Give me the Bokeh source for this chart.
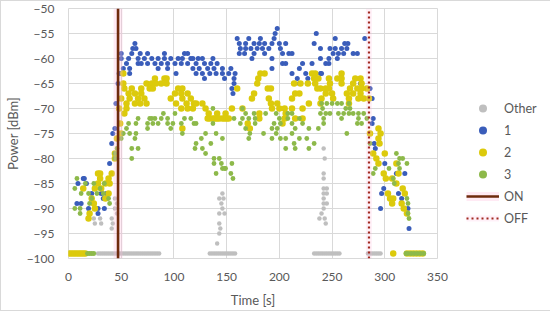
from bokeh.plotting import figure
from bokeh.models import Legend, LegendItem, FixedTicker
from bokeh.embed import file_html
from bokeh.resources import INLINE

x_ticks = [0, 50, 100, 150, 200, 250, 300, 350]
y_ticks = [-100, -95, -90, -85, -80, -75, -70, -65, -60, -55, -50]
on_time = 47
off_time = 285

# rows of (power dBm, [times s])
other_rows = [
    (-99, [28, 30, 32, 34, 36, 38, 40, 42, 44, 46, 48, 50, 52, 54, 56, 58, 60, 62, 64, 66, 68, 70, 72, 74, 76, 78, 80, 82, 84, 86]),
    (-99, [134, 136, 138, 140, 142, 144, 146, 148, 150, 152, 154, 156, 158]),
    (-99, [233, 235, 237, 239, 241, 243, 245, 247, 249, 251, 253, 255, 257]),
    (-99, [284, 286, 288, 290, 292, 294, 296]),
    (-78, [242]), (-80, [243]), (-83, [242]), (-84, [242]), (-86, [242, 245]),
    (-87, [146, 242, 245]), (-88, [44, 143, 147, 242]), (-89, [46, 145, 242, 245]),
    (-90, [44, 146, 242]), (-91, [46, 143, 148, 240]), (-92, [24, 30, 41, 238, 243]),
    (-93, [25, 31, 42, 143, 244]), (-94, [41, 144]), (-95, [143]), (-97, [141]),
]

blue_rows = [
    (-54, [198]),
    (-55, [196, 235]),
    (-56, [160, 171, 182, 195, 253, 281]),
    (-57, [63, 162, 168, 176, 181, 186, 193, 200, 206, 233, 262, 265]),
    (-58, [61, 64, 163, 168, 173, 179, 184, 190, 201, 239, 248, 253, 259, 264]),
    (-59, [50, 60, 68, 75, 91, 110, 113, 162, 167, 176, 186, 203, 209, 212, 251, 256, 261, 270, 274]),
    (-60, [50, 57, 66, 72, 79, 85, 91, 97, 104, 108, 116, 118, 123, 127, 137, 174, 193, 239, 247, 255]),
    (-61, [55, 66, 69, 75, 82, 88, 94, 101, 107, 113, 121, 129, 135, 141, 203, 206, 222, 231, 244, 247]),
    (-62, [52, 58, 85, 94, 118, 124, 132, 138, 146, 154, 193, 219]),
    (-63, [48, 50, 58, 102, 121, 127, 134, 140, 146, 152, 158, 212, 225, 231, 239, 240]),
    (-64, [129, 148, 157, 217, 227, 234]),
    (-65, [47, 157, 219, 277]),
    (-66, [105, 155, 286]),
    (-67, [156]),
    (-68, [288]),
    (-69, [45]),
    (-72, [289]),
    (-73, [288]),
    (-74, [44]),
    (-75, [42]),
    (-77, [41, 290]),
    (-78, [291]),
    (-81, [39, 300]),
    (-83, [311, 319]),
    (-84, [14, 15]),
    (-85, [9, 17]),
    (-86, [299]),
    (-87, [22, 31, 36, 37, 297, 313]),
    (-88, [33, 316]),
    (-89, [8, 12]),
    (-90, [19, 28, 34, 296, 322]),
    (-91, [28]),
    (-94, [323]),
]

yellow_rows = [
    (-63, [52, 182, 186, 231, 234, 259]),
    (-64, [82, 91, 93, 180, 233, 237, 247, 255, 259, 272, 277]),
    (-65, [52, 74, 79, 83, 88, 93, 179, 214, 220, 227, 234, 248, 259, 270, 278]),
    (-66, [53, 60, 69, 77, 80, 104, 108, 160, 189, 192, 239, 236, 244, 247, 267, 274, 278, 283]),
    (-67, [57, 63, 69, 101, 107, 113, 176, 215, 219, 244, 250, 264, 270, 277]),
    (-68, [50, 58, 66, 72, 97, 108, 116, 174, 190, 212, 240, 251, 266, 275, 280, 285]),
    (-69, [55, 63, 68, 74, 102, 112, 119, 121, 127, 192, 198, 228, 239, 266]),
    (-70, [48, 55, 107, 113, 118, 130, 155, 165, 193, 200, 205, 212, 222]),
    (-71, [53, 133, 141, 149, 181, 206]),
    (-72, [132, 134, 137, 139, 141, 143, 146, 148, 150, 152, 181, 205, 215, 222]),
    (-73, [49, 170, 203]),
    (-74, [108, 172, 294]),
    (-75, [50, 286, 296]),
    (-76, [46, 294]),
    (-77, [295]),
    (-79, [44, 289, 300]),
    (-80, [44, 292]),
    (-81, [294, 311]),
    (-83, [28, 30, 41, 299, 313]),
    (-84, [30, 38, 301, 307]),
    (-85, [28, 35, 39, 311]),
    (-86, [14, 25, 31, 317]),
    (-87, [38, 303, 319]),
    (-88, [22, 35, 305, 308]),
    (-89, [24, 307, 316]),
    (-90, [25, 318]),
    (-91, [20, 321]),
    (-92, [19]),
    (-99, [0, 2, 4, 6, 8, 10, 12, 14, 16, 308, 321, 324, 327, 330, 333, 336]),
]

green_rows = [
    (-69, [240, 245, 250, 255, 259, 266]),
    (-70, [137, 165, 241, 263, 267]),
    (-71, [90, 101, 168, 176, 187, 197, 208, 212, 239, 244, 248, 256, 261, 266, 270, 275, 280]),
    (-72, [66, 77, 79, 82, 88, 94, 110, 116, 157, 165, 171, 177, 200, 208, 219, 242, 259, 275, 283]),
    (-73, [57, 64, 75, 80, 85, 94, 99, 107, 119, 121, 137, 163, 177, 195, 201, 212, 222, 242, 274, 278]),
    (-74, [55, 75, 97, 168, 193, 198, 215, 228, 237]),
    (-75, [52, 58, 64, 108, 130, 140, 172, 185, 197, 212, 264]),
    (-76, [50, 63, 126, 146, 171, 193, 201, 206, 219, 226]),
    (-77, [121, 135, 214, 233, 286]),
    (-78, [46, 60, 66, 120, 127, 206, 215, 228]),
    (-79, [44, 130, 311]),
    (-80, [44, 60, 138, 143, 314, 317]),
    (-81, [138, 145, 155, 313, 321]),
    (-82, [146, 148, 149, 291, 304, 314]),
    (-83, [140, 154, 289]),
    (-84, [8, 156, 308]),
    (-85, [16, 24, 34, 309]),
    (-86, [6, 30]),
    (-87, [12, 19, 27, 33]),
    (-88, [22, 38, 321]),
    (-89, [20, 39, 322]),
    (-90, [6, 11]),
    (-91, [11, 322]),
    (-92, [323]),
    (-99, [18, 20, 22, 24, 320, 322, 325, 328, 331, 334, 337]),
]


def expand(rows):
    xs, ys = [], []
    for pw, ts in rows:
        for t in ts:
            xs.append(t)
            ys.append(pw)
    return xs, ys


FONT = "Lato"
TXT = "#595959"
GRID = "#D9D9D9"

p = figure(frame_width=369, frame_height=250, min_border_left=62, min_border_right=100,
           min_border_top=7, min_border_bottom=52, x_range=(0, 350), y_range=(-100, -50),
           output_backend="svg", toolbar_location=None,
           styles={"border": "1px solid #D9D9D9"})
p.outline_line_color = GRID
p.background_fill_color = "white"
p.border_fill_color = "white"

for ax in (p.xaxis[0], p.yaxis[0]):
    ax.axis_line_color = None
    ax.major_tick_line_color = None
    ax.minor_tick_line_color = None
    ax.major_label_text_font = FONT
    ax.major_label_text_font_size = "12px"
    ax.major_label_text_color = TXT
    ax.axis_label_text_font = FONT
    ax.axis_label_text_font_size = "13px"
    ax.axis_label_text_font_style = "normal"
    ax.axis_label_text_color = TXT
p.xaxis.ticker = FixedTicker(ticks=x_ticks)
p.yaxis.ticker = FixedTicker(ticks=y_ticks)
p.xaxis.axis_label = "Time [s]"
p.yaxis.axis_label = "Power [dBm]"
p.xaxis.major_label_standoff = 8
p.yaxis.major_label_standoff = 8
p.xaxis.axis_label_standoff = 8
p.yaxis.axis_label_standoff = 3
p.xgrid.grid_line_color = GRID
p.ygrid.grid_line_color = GRID

ox, oy = expand(other_rows)
bx, by = expand(blue_rows)
yx, yy = expand(yellow_rows)
gx, gy = expand(green_rows)

r_other = p.scatter(ox, oy, size=4.5, color="#BFBFBF", line_color=None)
r_blue = p.scatter(bx, by, size=5, color="#3A5DBA", line_color=None)
r_yel = p.scatter(yx, yy, size=6.5, color="#DCCA0C", line_color=None)
r_grn = p.scatter(gx, gy, size=4.8, color="#8DB94A", line_color=None)

r_on_halo = p.line([on_time, on_time], [-100, -50], line_width=9, color="#FFB8DC", alpha=0.3)
r_on = p.line([on_time, on_time], [-100, -50], line_width=2.6, color="#6E2A0C")
r_off_halo = p.line([off_time, off_time], [-100, -50], line_width=6, color="#FFB8DC", alpha=0.2)
r_off = p.line([off_time, off_time], [-100, -50], line_width=2.2, color="#A0281E", line_dash="2 3")

legend = Legend(items=[
    LegendItem(label="Other", renderers=[r_other]),
    LegendItem(label="1", renderers=[r_blue]),
    LegendItem(label="2", renderers=[r_yel]),
    LegendItem(label="3", renderers=[r_grn]),
    LegendItem(label="ON", renderers=[r_on_halo, r_on]),
    LegendItem(label="OFF", renderers=[r_off_halo, r_off]),
], location=(29, 30), orientation="vertical")
legend.glyph_width = 33
legend.glyph_height = 20
legend.spacing = 2
legend.padding = 0
legend.margin = 0
legend.label_standoff = 5
legend.label_text_font = FONT
legend.label_text_font_size = "12.5px"
legend.label_text_color = TXT
legend.border_line_color = None
legend.background_fill_alpha = 0
p.add_layout(legend, "right")

open("out.html", "w").write(file_html(p, INLINE))
